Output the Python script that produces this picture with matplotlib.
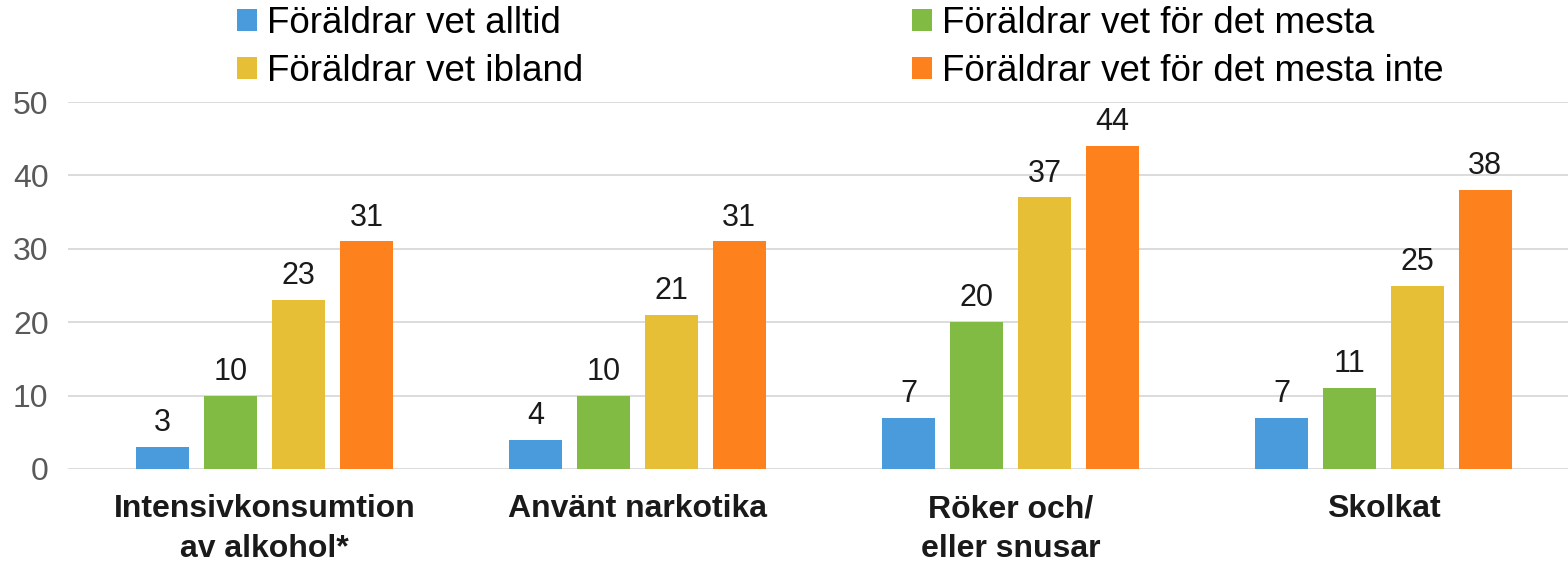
import numpy as np
from matplotlib import pyplot as plt

plt.rcParams['font.family'] = ['Liberation Sans', 'DejaVu Sans']

# Data
categories = ['Intensivkonsumtion\nav alkohol*', 'Använt narkotika',
              'Röker och/\neller snusar', 'Skolkat']
series = ['Föräldrar vet alltid', 'Föräldrar vet för det mesta',
          'Föräldrar vet ibland', 'Föräldrar vet för det mesta inte']
values = [
    [3, 4, 7, 7],
    [10, 10, 20, 11],
    [23, 21, 37, 25],
    [31, 31, 44, 38],
]
colors = ['#4a9bdc', '#82bb44', '#e7bf36', '#fd811d']
y_ticks = [0, 10, 20, 30, 40, 50]

fig = plt.figure(figsize=(15.68, 5.64), dpi=100)
ax = fig.add_axes([68 / 1568, 1 - 469 / 564, 1500 / 1568, 367 / 564])

x = np.arange(len(categories))
step = 0.182
width = 0.142
handles = []
for i, (name, vals, col) in enumerate(zip(series, values, colors)):
    bars = ax.bar(x + (i - 1.5) * step, vals, width, color=col, label=name, zorder=3)
    handles.append(bars)
    for b, v in zip(bars, vals):
        ax.text(b.get_x() + b.get_width() / 2, v + 1.2, str(v), ha='center', va='bottom',
                fontsize=22, color='#1a1a1a')

ax.set_ylim(0, 50)
ax.set_xlim(-0.527, 3.495)
ax.set_yticks(y_ticks)
ax.yaxis.grid(True, color='#d9d9d9', linewidth=1.3, zorder=0)
ax.tick_params(axis='y', length=0, labelsize=23, labelcolor='#595959', pad=14)
ax.set_xticks(x)
ax.set_xticklabels(categories, fontsize=23, fontweight='bold', color='#1a1a1a', linespacing=1.42)
ax.tick_params(axis='x', length=0, pad=18)
for s in ax.spines.values():
    s.set_visible(False)

order = [0, 2, 1, 3]
fig.legend([handles[k] for k in order], [series[k] for k in order], ncol=2,
           loc='upper left', bbox_to_anchor=(204 / 1568, 1.048), frameon=False,
           fontsize=26.5, handlelength=0.53, handleheight=0.53, handletextpad=0.27,
           columnspacing=8.95, labelspacing=0.36)

fig.savefig('out.png', dpi=100)
